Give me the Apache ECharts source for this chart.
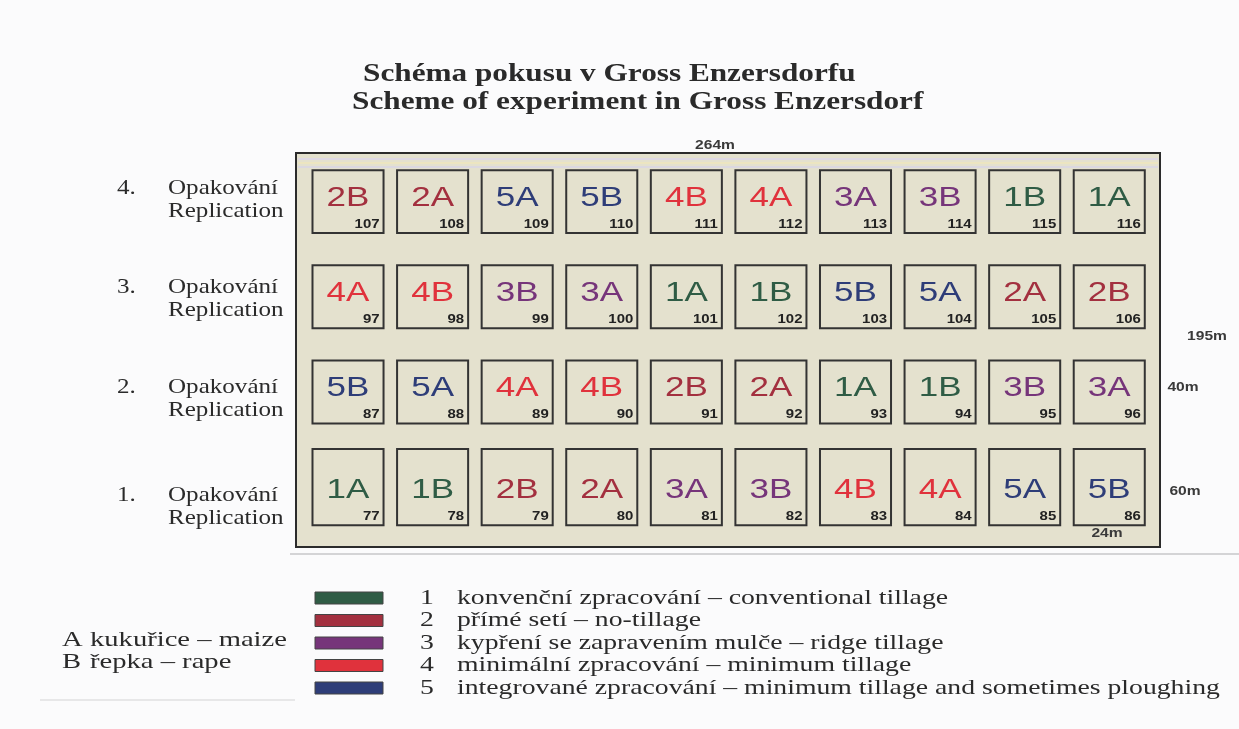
<!DOCTYPE html>
<html>
<head>
<meta charset="utf-8">
<script src="https://cdn.jsdelivr.net/npm/echarts@6/dist/echarts.min.js"></script>
<style>
html, body { margin: 0; padding: 0; background: #fbfbfc; }
#main { width: 1239px; height: 729px; }
</style>
</head>
<body>
<div id="main"></div>
<script>
// plots per replication, west -> east
var rep1Codes = ['1A', '1B', '2B', '2A', '3A', '3B', '4B', '4A', '5A', '5B'];
var rep1Plots = [77, 78, 79, 80, 81, 82, 83, 84, 85, 86];
var rep2Codes = ['5B', '5A', '4A', '4B', '2B', '2A', '1A', '1B', '3B', '3A'];
var rep2Plots = [87, 88, 89, 90, 91, 92, 93, 94, 95, 96];
var rep3Codes = ['4A', '4B', '3B', '3A', '1A', '1B', '5B', '5A', '2A', '2B'];
var rep3Plots = [97, 98, 99, 100, 101, 102, 103, 104, 105, 106];
var rep4Codes = ['2B', '2A', '5A', '5B', '4B', '4A', '3A', '3B', '1B', '1A'];
var rep4Plots = [107, 108, 109, 110, 111, 112, 113, 114, 115, 116];

var repLabels = ['1.', '2.', '3.', '4.'];
var treatmentNames = [
  'konvenční zpracování – conventional tillage',
  'přímé setí – no-tillage',
  'kypření se zapravením mulče – ridge tillage',
  'minimální zpracování – minimum tillage',
  'integrované zpracování – minimum tillage and sometimes ploughing'
];
var treatmentColors = ['#2f5c45', '#a3303f', '#76357a', '#e0323c', '#2e3d78'];
var cropLetters = ['A', 'B'];
var cropNames = ['kukuřice – maize', 'řepka – rape'];

var reps = [
  [rep1Codes, rep1Plots],
  [rep2Codes, rep2Plots],
  [rep3Codes, rep3Plots],
  [rep4Codes, rep4Plots]
];
var plotData = [];
reps.forEach(function (r, ri) {
  r[0].forEach(function (code, ci) {
    plotData.push([ci, ri + 1, code, r[1][ci]]);
  });
});

var serif = '"Liberation Serif", "Times New Roman", serif';
var sans = '"Liberation Sans", Arial, sans-serif';

function renderPlot(params, api) {
  var d = plotData[params.dataIndex];
  var c = api.coord([api.value(0), api.value(1)]);
  var unit = api.size([1, 1]);
  var w = unit[0] * 0.84;
  var h = unit[1] * (d[1] === 1 ? 0.8 : 0.66);
  var x0 = c[0] - w / 2, y0 = c[1] - h / 2;
  var color = treatmentColors[parseInt(d[2].charAt(0), 10) - 1];
  return {
    type: 'group',
    children: [
      { type: 'rect', shape: { x: x0, y: y0, width: w, height: h },
        style: { fill: 'rgba(0,0,0,0)', stroke: '#333', lineWidth: 2 } },
      { type: 'text', x: c[0], y: y0 + h * (d[1] === 1 ? 0.54 : 0.44), scaleX: 1.25,
        style: { text: d[2], font: '28px ' + sans, fill: color, align: 'center', verticalAlign: 'middle' } },
      { type: 'text', x: x0 + w - 4, y: y0 + h - 2, scaleX: 1.15,
        style: { text: String(d[3]), font: 'bold 13px ' + sans, fill: '#222', align: 'right', verticalAlign: 'bottom' } }
    ]
  };
}

var graphics = [];
function txt(x, y, text, font, opts) {
  opts = opts || {};
  graphics.push({
    type: 'text', x: x, y: y, scaleX: opts.sx || 1,
    style: { text: text, font: font, fill: opts.fill || '#2a2a2a',
      align: opts.align || 'left', verticalAlign: 'middle' }
  });
}
function hline(x1, x2, y, color, width) {
  graphics.push({ type: 'line', shape: { x1: x1, y1: y, x2: x2, y2: y },
    style: { stroke: color, lineWidth: width }, z: 0 });
}

// faint scan lines (field top stripes, rules under the field and crop legend)
hline(298, 1158, 159, '#dcd4ea', 1.5);
hline(298, 1158, 163, '#efe6bd', 1.5);
hline(298, 1158, 167, '#d9d4e6', 1.5);
hline(290, 1239, 554, '#d4d4d6', 2);
hline(40, 295, 700, '#e0e0e2', 1.5);

// title
txt(363, 75, 'Schéma pokusu v Gross Enzersdorfu', 'bold 25px ' + serif, { sx: 1.25 });
txt(352, 103, 'Scheme of experiment in Gross Enzersdorf', 'bold 25px ' + serif, { sx: 1.25 });

// replication labels
var repLabelY = [495, 387, 287, 188];
repLabels.forEach(function (n, i) {
  txt(117, repLabelY[i], n, '22px ' + serif, { sx: 1.14 });
  txt(168, repLabelY[i], 'Opakování', '22px ' + serif, { sx: 1.14 });
  txt(168, repLabelY[i] + 23, 'Replication', '22px ' + serif, { sx: 1.14 });
});

// field dimensions
var dimFont = 'bold 12px ' + sans;
txt(715, 146, '264m', dimFont, { sx: 1.3, align: 'center', fill: '#3a3a3a' });
txt(1207, 337, '195m', dimFont, { sx: 1.3, align: 'center', fill: '#3a3a3a' });
txt(1183, 388, '40m', dimFont, { sx: 1.3, align: 'center', fill: '#3a3a3a' });
txt(1185, 492, '60m', dimFont, { sx: 1.3, align: 'center', fill: '#3a3a3a' });
txt(1107, 534, '24m', dimFont, { sx: 1.3, align: 'center', fill: '#3a3a3a' });

// treatment legend
treatmentNames.forEach(function (name, i) {
  var y = 598 + i * 22.5;
  graphics.push({ type: 'rect', shape: { x: 315, y: y - 6, width: 68, height: 12 },
    style: { fill: treatmentColors[i], stroke: '#444', lineWidth: 1 } });
  txt(420, y, String(i + 1), '22px ' + serif, { sx: 1.26 });
  txt(457, y, name, '22px ' + serif, { sx: 1.26 });
});

// crop legend
cropLetters.forEach(function (l, i) {
  txt(62, 640 + i * 22, l, '22px ' + serif, { sx: 1.3 });
  txt(90, 640 + i * 22, cropNames[i], '22px ' + serif, { sx: 1.3 });
});

var chart = echarts.init(document.getElementById('main'));
chart.setOption({
  backgroundColor: '#fbfbfc',
  animation: false,
  grid: {
    left: 296, top: 153, width: 864, height: 394,
    show: true, backgroundColor: '#e4e1ce', borderColor: '#2b2b2b', borderWidth: 2
  },
  xAxis: { type: 'value', min: -0.615, max: 9.6, show: false },
  yAxis: { type: 'value', min: 0.372, max: 4.51, show: false },
  graphic: graphics,
  series: [{
    type: 'custom',
    renderItem: renderPlot,
    data: plotData.map(function (d) { return [d[0], d[1]]; })
  }]
});
</script>
</body>
</html>
